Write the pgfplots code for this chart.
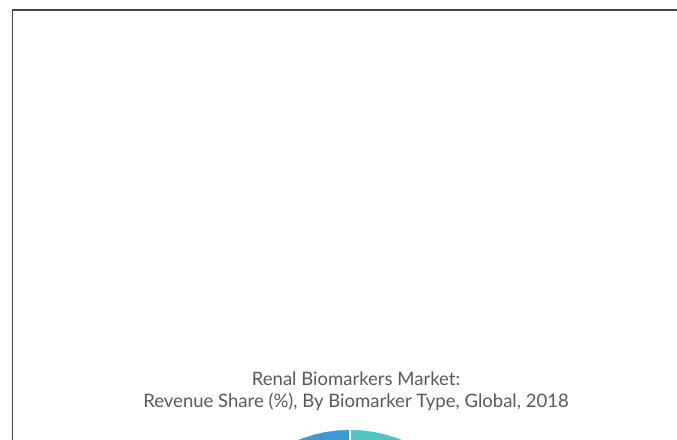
\documentclass[border=0pt]{standalone}
\usepackage{fontspec}
\setmainfont{Lato}
\usepackage{pgfplots}
\pgfplotsset{compat=1.18}
\definecolor{frame}{HTML}{454545}
\definecolor{titlegray}{HTML}{595959}
\definecolor{pieblue}{HTML}{3D9AD1}
\definecolor{pieteal}{HTML}{50C4C4}
\definecolor{piegray}{HTML}{9FA8B0}
\definecolor{pienavy}{HTML}{2F5F8A}
\begin{document}
\begin{tikzpicture}[x=0.75pt,y=0.75pt]
\useasboundingbox (0,0) rectangle (677,439);
\clip (0,0) rectangle (677,439);
\fill[white] (0,0) rectangle (677,439);
% frame
\draw[frame, line width=1.4pt] (12.5,-5) -- (12.5,429) -- (690,429);
% title
\node[anchor=base, text=titlegray, font=\fontsize{13.9}{16}\selectfont, inner sep=0pt] at (356,54) {Renal Biomarkers Market:};
\node[anchor=base, text=titlegray, font=\fontsize{13.9}{16}\selectfont, inner sep=0pt] at (356,32) {Revenue Share (\%), By Biomarker Type, Global, 2018};
% pie
\begin{axis}[at={(350,-130)}, anchor=origin, x=0.75pt, y=0.75pt,
  hide axis, xmin=-150, xmax=150, ymin=-150, ymax=150, clip=false,
  data cs=polar]
\addplot[draw=white, line width=1.2pt, fill=pieteal] coordinates {
(0,0) (90,140) (85,140) (80,140) (75,140) (70,140) (65,140) (60,140) (55,140) (50,140) (45,140) (40,140) (35,140) (30,140) (25,140) (20,140) (15,140) (10,140) (5,140) (0,140) (-5,140) (-10,140)} -- cycle;
\addplot[draw=white, line width=1.2pt, fill=pienavy] coordinates {
(0,0) (-10,140) (-20,140) (-30,140) (-40,140) (-50,140) (-60,140) (-70,140) (-80,140)} -- cycle;
\addplot[draw=white, line width=1.2pt, fill=piegray] coordinates {
(0,0) (-80,140) (-90,140) (-100,140) (-110,140) (-120,140) (-130,140) (-140,140) (-150,140) (-160,140)} -- cycle;
\addplot[draw=white, line width=1.2pt, fill=pieblue] coordinates {
(0,0) (90,140) (95,140) (100,140) (105,140) (110,140) (115,140) (120,140) (125,140) (130,140) (135,140) (140,140) (145,140) (150,140) (155,140) (160,140) (165,140) (170,140) (175,140) (180,140) (185,140) (190,140) (195,140) (200,140)} -- cycle;
\end{axis}
\end{tikzpicture}
\end{document}
